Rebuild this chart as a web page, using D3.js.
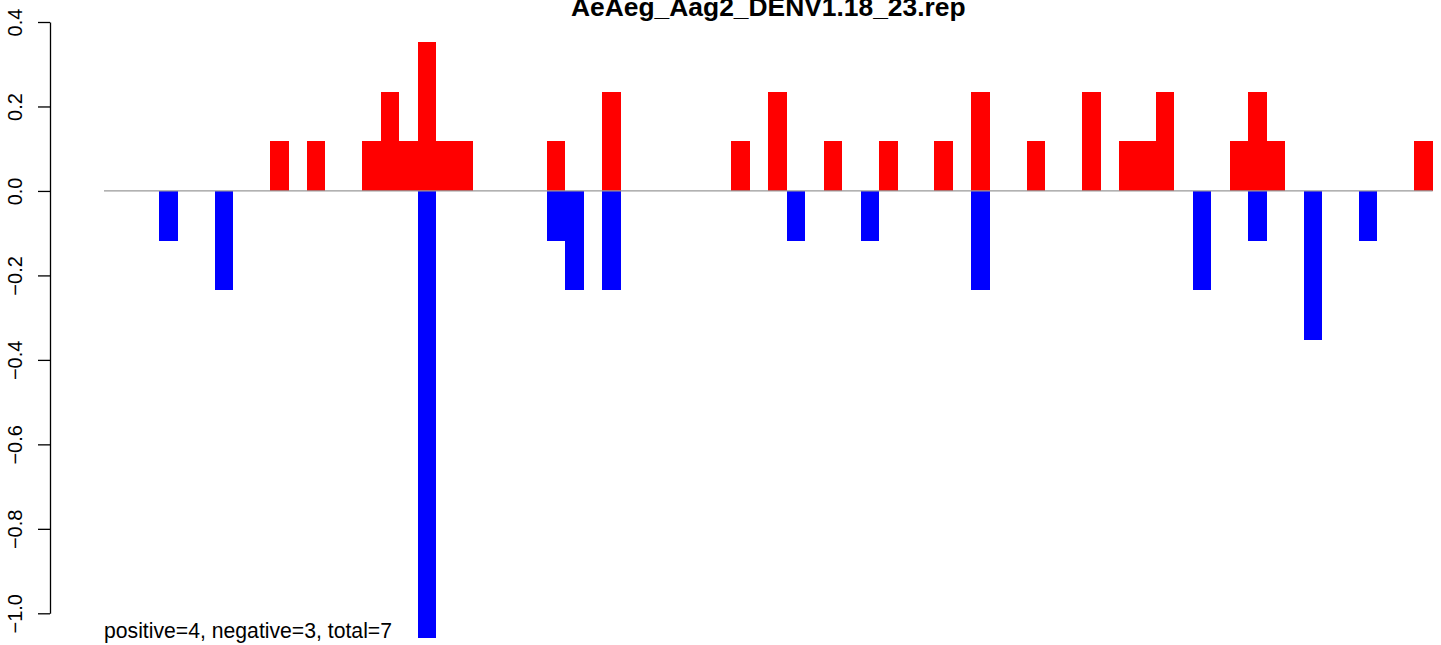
<!DOCTYPE html>
<html>
<head>
<meta charset="utf-8">
<script src="https://cdn.jsdelivr.net/npm/d3@7"></script>
<style>
  html, body { margin: 0; padding: 0; background: #fff; }
  svg { display: block; }
  text { font-family: "Liberation Sans", Arial, sans-serif; }
</style>
</head>
<body>
<svg id="chart" width="1441" height="645"></svg>
<script>
const title = "AeAeg_Aag2_DENV1.18_23.rep";
const footnote = "positive=4, negative=3, total=7";
const categories = d3.range(1, 73).map(String);
const positiveScores = [
  0,0,0,0,0,0,0,0,0,0.1176,0,0.1176,
  0,0,0.1176,0.2353,0.1176,0.3529,0.1176,0.1176,0,0,0,0,
  0.1176,0,0,0.2353,0,0,0,0,0,0,0.1176,0,
  0.2353,0,0,0.1176,0,0,0.1176,0,0,0.1176,0,0.2353,
  0,0,0.1176,0,0,0.2353,0,0.1176,0.1176,0.2353,0,0,
  0,0.1176,0.2353,0.1176,0,0,0,0,0,0,0,0.1176
];
const negativeScores = [
  0,0,0,-0.1176,0,0,-0.2353,0,0,0,0,0,
  0,0,0,0,0,-1.0588,0,0,0,0,0,0,
  -0.1176,-0.2353,0,-0.2353,0,0,0,0,0,0,0,0,
  0,-0.1176,0,0,0,-0.1176,0,0,0,0,0,-0.2353,
  0,0,0,0,0,0,0,0,0,0,0,-0.2353,
  0,0,-0.1176,0,0,-0.3529,0,0,-0.1176,0,0,0
];
const yTicks = [-1.0, -0.8, -0.6, -0.4, -0.2, 0.0, 0.2, 0.4];
const yTickLabels = ["\u22121.0", "\u22120.8", "\u22120.6", "\u22120.4", "\u22120.2", "0.0", "0.2", "0.4"];

const svg = d3.select("#chart");
const x = d3.scaleBand().domain(categories).range([104, 1432.7]).padding(0);
const y = d3.scaleLinear().domain([-1.0, 0.4]).range([613.3, 22]);

// bars
svg.append("g").selectAll("rect.pos")
  .data(categories.map((c, i) => ({c, v: positiveScores[i]})).filter(d => d.v !== 0))
  .join("rect")
  .attr("x", d => x(d.c)).attr("width", x.bandwidth())
  .attr("y", d => y(d.v)).attr("height", d => y(0) - y(d.v))
  .attr("fill", "#ff0000").attr("shape-rendering", "crispEdges");

svg.append("g").selectAll("rect.neg")
  .data(categories.map((c, i) => ({c, v: negativeScores[i]})).filter(d => d.v !== 0))
  .join("rect")
  .attr("x", d => x(d.c)).attr("width", x.bandwidth())
  .attr("y", y(0)).attr("height", d => y(d.v) - y(0))
  .attr("fill", "#0000ff").attr("shape-rendering", "crispEdges");

// zero line
svg.append("line")
  .attr("x1", x.range()[0]).attr("x2", x.range()[1])
  .attr("y1", y(0)).attr("y2", y(0))
  .attr("stroke", "#999999").attr("stroke-width", 1.3);

// y axis
const axis = d3.axisLeft(y).tickValues(yTicks).tickFormat((d, i) => yTickLabels[i])
  .tickSize(12).tickSizeOuter(0);
const gy = svg.append("g").attr("transform", "translate(50,0)").call(axis);
gy.select(".domain").attr("stroke", "#000").attr("stroke-width", 1.3);
gy.selectAll(".tick line").attr("stroke", "#000").attr("stroke-width", 1.3);
gy.selectAll(".tick text")
  .attr("x", 0).attr("dy", null).attr("y", 0)
  .attr("text-anchor", "middle")
  .attr("transform", "translate(-28,0) rotate(-90)")
  .attr("font-size", 20).attr("font-family", "Liberation Sans, Arial, sans-serif")
  .attr("fill", "#000");

// title
svg.append("text")
  .attr("x", (x.range()[0] + x.range()[1]) / 2).attr("y", 16)
  .attr("text-anchor", "middle").attr("font-weight", "bold").attr("font-size", 26.4)
  .text(title);

// footnote
svg.append("text")
  .attr("x", 104).attr("y", 638)
  .attr("font-size", 21.2)
  .text(footnote);
</script>
</body>
</html>
